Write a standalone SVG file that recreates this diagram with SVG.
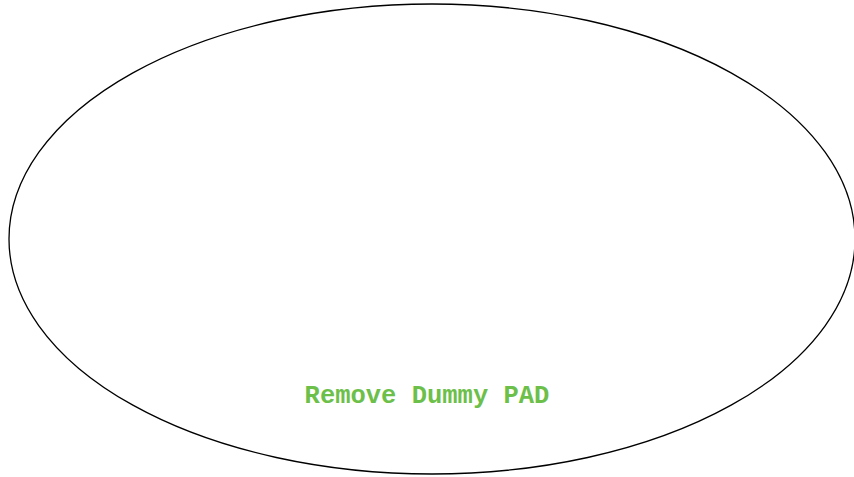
<svg xmlns="http://www.w3.org/2000/svg" width="854" height="477" viewBox="0 0 854 477">
<style>
.shape{fill:none;stroke:#000;stroke-width:1.3}
.lbl{font-family:"Liberation Mono","Courier New",monospace;font-weight:bold;font-size:25.5px;fill:#6cc04a}
</style>
<rect width="854" height="477" fill="#fff"/>
<g id="node-remove-dummy-pad">
<ellipse class="shape" cx="432" cy="239" rx="423" ry="235"/>
<text class="lbl" x="427" y="403" text-anchor="middle">Remove Dummy PAD</text>
</g>
<g id="connectors"/>
</svg>
